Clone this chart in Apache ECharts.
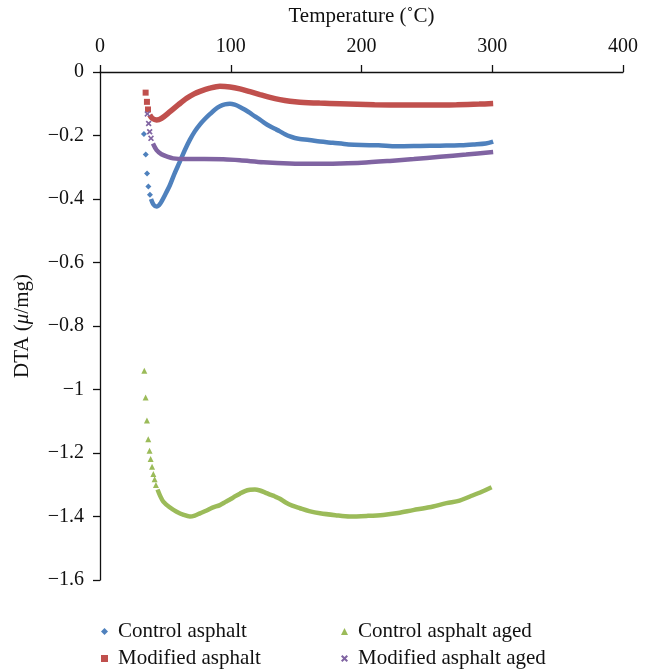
<!DOCTYPE html>
<html>
<head>
<meta charset="utf-8">
<script src="https://cdn.jsdelivr.net/npm/echarts@6/dist/echarts.min.js"></script>
<style>
  html, body { margin: 0; padding: 0; background: #fff; }
  #chart { width: 648px; height: 671px; }
</style>
</head>
<body>
<div id="chart"></div>
<script>
// DTA curves of control and modified asphalt, fresh and aged.
// Each curve: a few sparse readings at the start (drawn as markers) and a dense body (drawn as a thick trace).

const xTicks = [0, 100, 200, 300, 400];
const yTicks = [0, -0.2, -0.4, -0.6, -0.8, -1, -1.2, -1.4, -1.6];

const seriesNames = ['Control asphalt', 'Modified asphalt', 'Control asphalt aged', 'Modified asphalt aged'];

// Control asphalt
const controlHeadT = [33.6, 35.0, 36.0, 37.0, 38.2];
const controlHeadV = [-0.195, -0.26, -0.32, -0.361, -0.387];
const controlT = [39, 41, 43.3, 46, 50, 53.5, 57, 61, 65, 68.8, 72.5, 76.5, 80, 84, 88, 91.7, 95.5, 99.4, 103, 107, 110.9, 114.7, 118.5, 122.3, 126, 130, 133.8, 137.6, 141.5, 145.3, 149, 152.9, 160, 168.2, 178, 190, 200, 213, 226.8, 245, 260, 275, 285.4, 295, 300.7];
const controlV = [-0.40, -0.418, -0.424, -0.415, -0.385, -0.356, -0.32, -0.283, -0.245, -0.213, -0.187, -0.165, -0.149, -0.133, -0.118, -0.108, -0.102, -0.100, -0.103, -0.110, -0.119, -0.129, -0.140, -0.150, -0.161, -0.171, -0.179, -0.187, -0.196, -0.203, -0.208, -0.211, -0.214, -0.219, -0.223, -0.228, -0.230, -0.231, -0.234, -0.233, -0.232, -0.231, -0.228, -0.225, -0.219];

// Modified asphalt
const modifiedHeadT = [34.9, 35.9, 36.7];
const modifiedHeadV = [-0.065, -0.094, -0.118];
const modifiedT = [38, 40, 43.3, 47, 53.5, 60, 66.3, 72, 76.5, 84, 91.7, 99.4, 107, 114.7, 122.3, 130, 137.6, 145.3, 152.9, 168, 183.5, 210, 234.5, 255, 272.7, 290, 300.7];
const modifiedV = [-0.135, -0.146, -0.151, -0.146, -0.125, -0.103, -0.083, -0.069, -0.061, -0.051, -0.045, -0.047, -0.053, -0.062, -0.071, -0.080, -0.087, -0.092, -0.095, -0.098, -0.100, -0.103, -0.104, -0.104, -0.103, -0.101, -0.099];

// Control asphalt aged
const controlAgedHeadT = [33.9, 34.9, 35.9, 36.9, 37.9, 38.7, 39.8, 40.8, 41.8, 42.8];
const controlAgedHeadV = [-0.941, -1.025, -1.098, -1.157, -1.193, -1.219, -1.243, -1.266, -1.283, -1.301];
const controlAgedT = [44, 46, 48.4, 53, 58.6, 64, 68.8, 72.5, 76.5, 81.6, 86, 91.7, 96, 100, 103.5, 107, 110.9, 114.7, 118.5, 122.3, 126, 130, 133.8, 137.6, 142, 147, 152.9, 160, 168.2, 180, 191, 205, 216.6, 228, 239.5, 252, 265, 275, 283, 292, 299.5];
const controlAgedV = [-1.315, -1.335, -1.353, -1.37, -1.385, -1.395, -1.40, -1.397, -1.39, -1.381, -1.372, -1.364, -1.354, -1.345, -1.336, -1.328, -1.32, -1.316, -1.315, -1.318, -1.324, -1.331, -1.337, -1.344, -1.356, -1.366, -1.374, -1.383, -1.39, -1.396, -1.40, -1.398, -1.395, -1.389, -1.38, -1.371, -1.358, -1.35, -1.337, -1.322, -1.308];

// Modified asphalt aged
const modifiedAgedHeadT = [36.2, 37.2, 38.0, 39.0];
const modifiedAgedHeadV = [-0.132, -0.162, -0.188, -0.209];
const modifiedAgedT = [40.5, 43.3, 47, 51, 56, 65, 80, 94.3, 107, 125, 145, 165, 183.5, 200, 221.7, 240, 260, 280, 300.7];
const modifiedAgedV = [-0.225, -0.246, -0.259, -0.266, -0.272, -0.274, -0.274, -0.275, -0.278, -0.284, -0.288, -0.289, -0.288, -0.286, -0.28, -0.274, -0.267, -0.26, -0.252];

const colors = ['#4F81BD', '#C0504D', '#9BBB59', '#8064A2'];
const crossPath = 'path://M2,0L5,3L8,0L10,2L7,5L10,8L8,10L5,7L2,10L0,8L3,5L0,2Z';
const symbols = ['diamond', 'rect', 'triangle', crossPath];
const symbolSizes = [6, 6, 6, 6];
const traceWidths = [4.5, 5.5, 4.5, 4.5];

const heads = [
  [controlHeadT, controlHeadV],
  [modifiedHeadT, modifiedHeadV],
  [controlAgedHeadT, controlAgedHeadV],
  [modifiedAgedHeadT, modifiedAgedHeadV]
];
const bodies = [
  [controlT, controlV],
  [modifiedT, modifiedV],
  [controlAgedT, controlAgedV],
  [modifiedAgedT, modifiedAgedV]
];

const zip = (t, v) => t.map((x, i) => [x, v[i]]);

const FONT = 'Liberation Serif';
const series = [];
seriesNames.forEach((name, i) => {
  series.push({
    name: name,
    type: 'line',
    data: zip(bodies[i][0], bodies[i][1]),
    smooth: 0.3,
    showSymbol: false,
    lineStyle: { color: colors[i], width: traceWidths[i] },
    itemStyle: { color: colors[i] },
    z: 2,
    silent: true
  });
  series.push({
    name: name,
    type: 'scatter',
    data: zip(heads[i][0], heads[i][1]),
    symbol: symbols[i],
    symbolSize: symbolSizes[i],
    itemStyle: { color: colors[i], opacity: 1 },
    z: 3,
    silent: true
  });
});

// Legend in two columns, one legend component per entry
const legendPos = [
  { left: 101, top: 621 },
  { left: 101, top: 648 },
  { left: 341, top: 621 },
  { left: 341, top: 648 }
];
const legendIconSize = [7, 7, 7, 7];
const legends = seriesNames.map((name, i) => ({
  left: legendPos[i].left,
  top: legendPos[i].top,
  padding: 0,
  itemWidth: legendIconSize[i],
  itemHeight: legendIconSize[i],
  itemGap: 0,
  selectedMode: false,
  data: [{ name: name, icon: symbols[i], itemStyle: { color: colors[i] } }],
  textStyle: { fontFamily: FONT, fontSize: 21, color: '#111', padding: [0, 0, 0, 5] }
}));

const fmtY = v => {
  const r = Math.round(v * 10) / 10;
  if (r === 0) return '0';
  return (r < 0 ? '\u2212' : '') + String(Math.abs(r));
};

const option = {
  animation: false,
  backgroundColor: '#fff',
  grid: { left: 100, right: 25, top: 72, bottom: 91, containLabel: false, outerBoundsMode: 'none' },
  legend: legends,
  xAxis: {
    type: 'value',
    position: 'top',
    min: xTicks[0],
    max: xTicks[xTicks.length - 1],
    interval: 100,
    name: 'Temperature (\u02DAC)',
    nameLocation: 'middle',
    nameGap: 45,
    nameTextStyle: { fontFamily: FONT, fontSize: 21, color: '#111' },
    axisLine: { onZero: false, lineStyle: { color: '#111', width: 1.3 } },
    axisTick: { inside: false, length: 7, lineStyle: { color: '#111', width: 1.3 } },
    axisLabel: { fontFamily: FONT, fontSize: 20, color: '#111', margin: 15 },
    splitLine: { show: false }
  },
  yAxis: {
    type: 'value',
    min: yTicks[yTicks.length - 1],
    max: yTicks[0],
    interval: 0.2,
    name: '{a|DTA (}{b|\u03BC}{a|/mg)}',
    nameLocation: 'middle',
    nameGap: 67,
    nameRotate: 90,
    nameTextStyle: {
      rich: {
        a: { fontFamily: FONT, fontSize: 21, color: '#111' },
        b: { fontFamily: FONT, fontSize: 21, color: '#111', fontStyle: 'italic' }
      }
    },
    axisLine: { onZero: false, lineStyle: { color: '#111', width: 1.3 } },
    axisTick: { inside: false, length: 7, lineStyle: { color: '#111', width: 1.3 } },
    axisLabel: { fontFamily: FONT, fontSize: 20, color: '#111', margin: 16, formatter: fmtY },
    splitLine: { show: false }
  },
  series: series
};

const chart = echarts.init(document.getElementById('chart'), null, { renderer: 'canvas' });
chart.setOption(option);
</script>
</body>
</html>
